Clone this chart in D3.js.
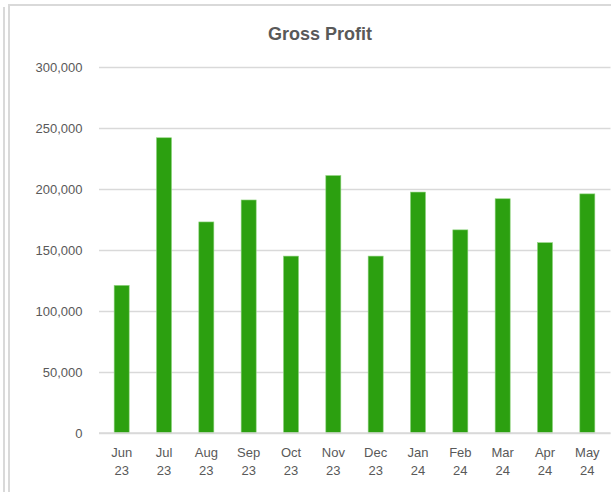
<!DOCTYPE html>
<html>
<head>
<meta charset="utf-8">
<script src="https://cdn.jsdelivr.net/npm/d3@7"></script>
<style>
  body { margin: 0; background: #fff; }
  svg { display: block; font-family: "Liberation Sans", Arial, sans-serif; }
  .axis text { fill: #595959; font-size: 13px; }
</style>
</head>
<body>
<div id="chart-area"></div>
<script>
// Data
var months = ["Jun", "Jul", "Aug", "Sep", "Oct", "Nov", "Dec", "Jan", "Feb", "Mar", "Apr", "May"];
var years = ["23", "23", "23", "23", "23", "23", "23", "24", "24", "24", "24", "24"];
var grossProfit = [121000, 242000, 173000, 191000, 145000, 211000, 145000, 197500, 166500, 192000, 156000, 196000];
var yTicks = [0, 50000, 100000, 150000, 200000, 250000, 300000];

var W = 611, H = 492;
var margin = { left: 100.5, right: 2.5, top: 67, bottom: 59 };
var width = W - margin.left - margin.right,
  height = H - margin.top - margin.bottom;

var svg = d3.select("#chart-area").append("svg")
  .attr("width", W)
  .attr("height", H);

// frame lines
svg.append("line")
  .attr("x1", 4).attr("x2", 4).attr("y1", 7).attr("y2", H)
  .attr("stroke", "#d9d9d9").attr("stroke-width", 2);
svg.append("path")
  .attr("d", "M9," + H + "V5H" + W)
  .attr("fill", "none")
  .attr("stroke", "#d9d9d9").attr("stroke-width", 2);

// Title
svg.append("text")
  .attr("x", 320)
  .attr("y", 40)
  .attr("text-anchor", "middle")
  .attr("font-size", "18px")
  .attr("font-weight", "bold")
  .attr("fill", "#595959")
  .text("Gross Profit");

var g = svg.append("g")
  .attr("transform", "translate(" + margin.left + "," + margin.top + ")");

var keys = months.map(function(m, i) { return m + " " + years[i]; });

var x = d3.scaleBand()
  .domain(keys)
  .range([0, width])
  .paddingInner(0.645)
  .paddingOuter(0.3225);

var y = d3.scaleLinear()
  .domain([0, 300000])
  .range([height, 0]);

// Y axis with gridlines
var yAxis = g.append("g")
  .attr("class", "axis")
  .call(d3.axisLeft(y)
    .tickValues(yTicks)
    .tickSize(-(width + 2))
    .tickPadding(18)
    .tickFormat(d3.format(",")));
yAxis.select(".domain").remove();
yAxis.selectAll(".tick line")
  .attr("stroke", "#d9d9d9")
  .attr("stroke-width", 1.5)
  .attr("x1", -1.5);
yAxis.selectAll(".tick text").attr("dy", "0.35em");

// Bars
g.selectAll(".bar")
  .data(grossProfit)
  .enter().append("rect")
  .attr("class", "bar")
  .attr("x", function(d, i) { return x(keys[i]); })
  .attr("y", function(d) { return y(d); })
  .attr("width", x.bandwidth())
  .attr("height", function(d) { return height - y(d); })
  .attr("fill", "#2ca010")
  .attr("stroke", "#8fd37e")
  .attr("stroke-width", 0.6);

// X axis labels (two lines)
var xAxis = g.append("g")
  .attr("class", "axis")
  .attr("transform", "translate(0," + height + ")")
  .call(d3.axisBottom(x).tickSize(0).tickFormat(""));
xAxis.select(".domain")
  .attr("stroke", "#d9d9d9")
  .attr("stroke-width", 1.5)
  .attr("d", "M-1.5,0H" + (width + 2));

xAxis.selectAll(".tick").each(function(d, i) {
  var t = d3.select(this).append("text")
    .attr("fill", "#595959")
    .attr("text-anchor", "middle")
    .attr("y", 24);
  t.append("tspan").attr("x", 0).text(months[i]);
  t.append("tspan").attr("x", 0).attr("dy", 18).text(years[i]);
});
</script>
</body>
</html>
